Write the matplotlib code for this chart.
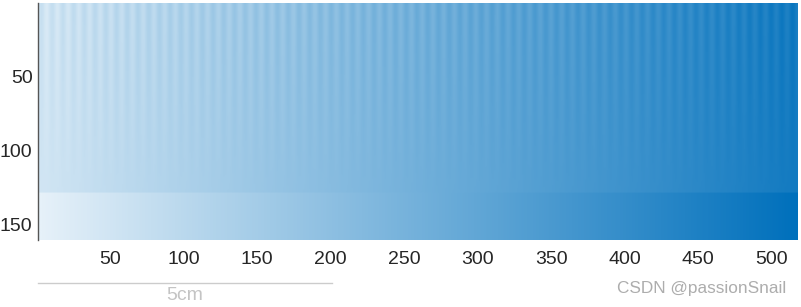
import numpy as np
import matplotlib
matplotlib.use("Agg")
import matplotlib.pyplot as plt
from matplotlib.colors import LinearSegmentedColormap

# ---- data ----
n_cols = 517              # image width in pixels
n_rows = 160              # image height in pixels
band_row = 128            # last row of the striped upper band
color_stops = ["#e6f1f9", "#0070bc"]   # light -> dark blue
upper_range = [0.09, 0.92]   # value range of upper (striped) band, left -> right
lower_range = [0.0, 1.0]     # value range of lower (reference) band
stripe_period = 7.3
stripe_amp = 0.045
x_ticks = [50, 100, 150, 200, 250, 300, 350, 400, 450, 500]
y_ticks = [50, 100, 150]
scale_label = "5cm"
scale_len = 200
watermark = "CSDN @passionSnail"

# ---- build image ----
cols = np.arange(n_cols)
t = cols / (n_cols - 1)
rows = np.arange(n_rows)
img = np.zeros((n_rows, n_cols))
upper = upper_range[0] + (upper_range[1] - upper_range[0]) * t
lower = lower_range[0] + (lower_range[1] - lower_range[0]) * t
stripe = np.sin(2 * np.pi * cols / stripe_period)
for r in rows:
    if r < band_row:
        fade = max(0.0, 1 - r / band_row)
        img[r] = upper + stripe_amp * fade * stripe
    else:
        img[r] = lower

cmap = LinearSegmentedColormap.from_list("blue", color_stops)

plt.rcParams["font.family"] = ["Liberation Sans", "DejaVu Sans"]
fig = plt.figure(figsize=(8.01, 3.07), dpi=100)
ax = fig.add_axes([37.5 / 801, 1 - 240 / 307, 760 / 801, 237 / 307])
ax.imshow(img, cmap=cmap, vmin=0, vmax=1, aspect="auto",
          extent=(0.5, n_cols + 0.5, n_rows + 0.5, 0.5), interpolation="bilinear")
ax.set_xlim(0.5, n_cols + 0.5)
ax.set_ylim(n_rows + 0.5, 0.5)
ax.set_xticks(x_ticks)
ax.set_yticks(y_ticks)
ax.tick_params(length=0, labelsize=14, colors="#262626")
ax.tick_params(axis="x", pad=8)
ax.tick_params(axis="y", pad=3.6)
for s in ["top", "right", "bottom"]:
    ax.spines[s].set_visible(False)
ax.spines["left"].set_color("#555555")
ax.spines["left"].set_linewidth(1.0)

# scale bar (200 data px)
x0 = 37.5 / 801
x1 = x0 + (scale_len / n_cols) * (760 / 801)
fig.add_artist(plt.Line2D([x0, x1], [1 - 283.3 / 307] * 2, transform=fig.transFigure,
                          color="#cccccc", lw=1))
fig.text((x0 + x1) / 2, 1 - 296 / 307, scale_label, ha="center", va="center",
         fontsize=14, color="#c4c4c4")
fig.text(786 / 801, 1 - 289 / 307, watermark, ha="right", va="center",
         fontsize=12.4, color="#adadad")

fig.savefig("out.png", dpi=100)
